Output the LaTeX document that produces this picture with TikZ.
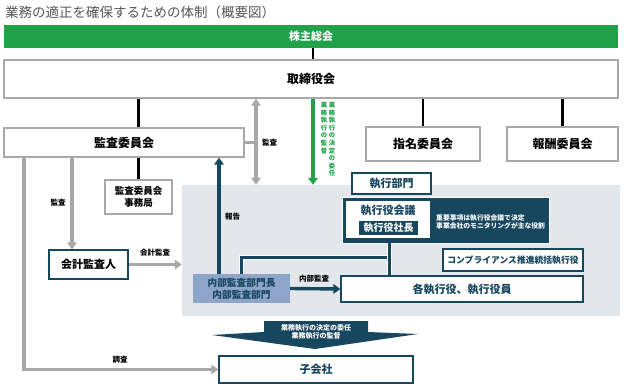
\documentclass[tikz,border=0pt]{standalone}
\usepackage{fontspec}
\setmainfont{Noto Sans CJK JP}
\usetikzlibrary{arrows.meta}
\definecolor{kgreen}{HTML}{21A24A}
\definecolor{knavy}{HTML}{17465F}
\definecolor{kgray}{HTML}{A8A8A8}
\definecolor{kbg}{HTML}{E3E7EB}
\definecolor{kblue}{HTML}{8EA5C9}
\definecolor{ktitle}{HTML}{555555}

\begin{document}
\begin{tikzpicture}[x=1pt, y=-1pt,
  graybox/.style={draw=kgray, line width=1.3pt, fill=white, inner sep=0pt,
    font=\bfseries\fontsize{12}{14}\selectfont},
  navybox/.style={draw=knavy, line width=1.3pt, fill=white, text=knavy, inner sep=0pt,
    font=\bfseries\fontsize{11}{13}\selectfont},
  tag/.style={font=\bfseries\fontsize{7.5}{9}\selectfont, inner sep=1pt},
  note/.style={font=\bfseries\fontsize{6.8}{8.6}\selectfont, text=white, align=left, inner sep=0pt},
  blackline/.style={draw=black, line width=2.7pt},
  grayarrow/.style={draw=kgray, line width=3.6pt, -{Triangle[length=7pt,width=9.5pt]}},
  navyarrow/.style={draw=knavy, line width=3.4pt, -{Triangle[length=7pt,width=9.5pt]}},
  navyline/.style={draw=knavy, line width=3pt,
    preaction={draw=white, line width=4.6pt}},
]
\useasboundingbox (0,0) rectangle (624,391);

% title
\node[anchor=west, text=ktitle, inner sep=0pt, font=\fontsize{13.5}{15}\selectfont]
  (title) at (5,12) {業務の適正を確保するための体制（概要図）};

% board level
\node[fill=kgreen, text=white, minimum width=614, minimum height=23, inner sep=0pt,
  font=\bfseries\fontsize{11}{13}\selectfont] (kabunushi) at (311,36.5) {株主総会};
\node[graybox, minimum width=614, minimum height=38] (torishimari) at (311,79) {取締役会};
\node[graybox, minimum width=240, minimum height=29] (kansa) at (124,142.5) {監査委員会};
\node[graybox, minimum width=114, minimum height=34] (shimei) at (423,144) {指名委員会};
\node[graybox, minimum width=111, minimum height=34] (houshu) at (562.5,144) {報酬委員会};
\node[graybox, minimum width=67, minimum height=34, align=center,
  font=\bfseries\fontsize{9.5}{12}\selectfont] (jimukyoku) at (138.5,197) {監査委員会\\事務局};

% execution area
\node[fill=kbg, minimum width=438, minimum height=131, inner sep=0pt] (exec) at (401,250.5) {};
\node[navybox, minimum width=79, minimum height=21] (bumon) at (391.5,183.5) {執行部門};
\node[fill=knavy, draw=white, line width=0.6pt, minimum width=207, minimum height=46,
  inner sep=0pt] (panel) at (445.5,220) {};
\node[fill=white, minimum width=84, minimum height=37, inner sep=0pt] (kaigi) at (388,219.5) {};
\node[text=knavy, inner sep=0pt, font=\bfseries\fontsize{11}{13}\selectfont]
  (kaigitext) at (388,210.5) {執行役会議};
\node[fill=knavy, text=white, minimum width=59, minimum height=14, inner sep=0pt,
  font=\bfseries\fontsize{10}{12}\selectfont] (shachou) at (388.5,227.5) {執行役社長};
\node[note, anchor=west] (role) at (436,222) {重要事項は執行役会議で決定\\事業会社のモニタリングが主な役割};
\node[navybox, minimum width=140, minimum height=22, font=\bfseries\fontsize{8.8}{11}\selectfont]
  (compliance) at (513,260) {コンプライアンス推進統括執行役};
\node[navybox, minimum width=242, minimum height=26] (kaku) at (462,289) {各執行役、執行役員};
\node[fill=kblue, text=knavy, minimum width=97, minimum height=29, inner sep=0pt, align=center,
  font=\bfseries\fontsize{9.7}{12}\selectfont] (naibu) at (241.5,288.5) {内部監査部門長\\内部監査部門};

% outside the area
\node[navybox, text=black, minimum width=79, minimum height=29] (kaikei) at (88.5,264.5) {会計監査人};
\node[navybox, minimum width=194, minimum height=27] (kogaisha) at (316,369.5) {子会社};

% helper columns
\coordinate (dbl) at (256,0);
\coordinate (grn) at (313,0);
\coordinate (rep) at (219,0);
\coordinate (aud) at (72,0);
\coordinate (inv) at (24,0);
\coordinate (junc) at (389.5,257.5);

% board connectors
\draw[blackline] (kabunushi.south -| grn) -- (torishimari.north -| grn);
\draw[blackline] (torishimari.south -| jimukyoku.north) -- (kansa.north -| jimukyoku.north);
\draw[blackline] (kansa.south -| jimukyoku.north) -- (jimukyoku.north);
\draw[blackline] (torishimari.south -| shimei.north) -- (shimei.north);
\draw[blackline] (torishimari.south -| houshu.north) -- (houshu.north);

% audit of the board
\draw[draw=kgray, line width=3.6pt, {Triangle[length=7pt,width=9.5pt]}-{Triangle[length=7pt,width=9.5pt]}]
  (torishimari.south -| dbl) -- (exec.north -| dbl);
\draw[draw=kgray, line width=3.6pt] (kansa.east) -- (kansa.east -| dbl);
\node[tag, anchor=west] (kansatag) at (261,143) {監査};

% delegation
\draw[draw=kgreen, line width=3.6pt, -{Triangle[length=7pt,width=9.5pt]}]
  (torishimari.south -| grn) -- (exec.north -| grn);
\node[text=kgreen, anchor=north, align=center, inner sep=0pt,
  font=\bfseries\fontsize{6.3}{7.6}\selectfont] (itaku) at (332,102)
  {業\\務\\執\\行\\の\\決\\定\\の\\委\\任};
\node[text=kgreen, anchor=north, align=center, inner sep=0pt,
  font=\bfseries\fontsize{6.3}{7.6}\selectfont] (kantoku) at (324,102)
  {業\\務\\執\\行\\の\\監\\督};

% internal audit
\draw[navyarrow] (naibu.north -| rep) -- (kansa.south -| rep);
\node[tag, anchor=west] (houkoku) at (224,217) {報告};
\draw[navyline] (naibu.north) |- (junc);
\draw[navyline] (panel.south -| junc) -- (kaku.north -| junc);
\draw[navyarrow] (naibu.east) -- (kaku.west);
\node[tag] (naibutag) at (314,279) {内部監査};

% accounting audit
\draw[grayarrow] (kansa.south -| aud) -- (kaikei.north -| aud);
\node[tag] (audtag) at (58,203) {監査};
\draw[grayarrow] (kaikei.east) -- (kaikei.east -| exec.west);
\node[tag] (kaikeitag) at (155,253) {会計監査};
\draw[grayarrow] (kansa.south -| inv) |- (kogaisha.west);
\node[tag] (chousa) at (120,360) {調査};

% delegation to subsidiaries
\fill[knavy] (264,321) -- (368,321) -- (368,332) -- (418,334) -- (315,349)
  -- (212,335) -- (264,332) -- cycle;
\node[note, align=center, font=\bfseries\fontsize{7}{8.6}\selectfont] (subtag) at (316,332)
  {業務執行の決定の委任\\業務執行の監督};
\end{tikzpicture}
\end{document}
